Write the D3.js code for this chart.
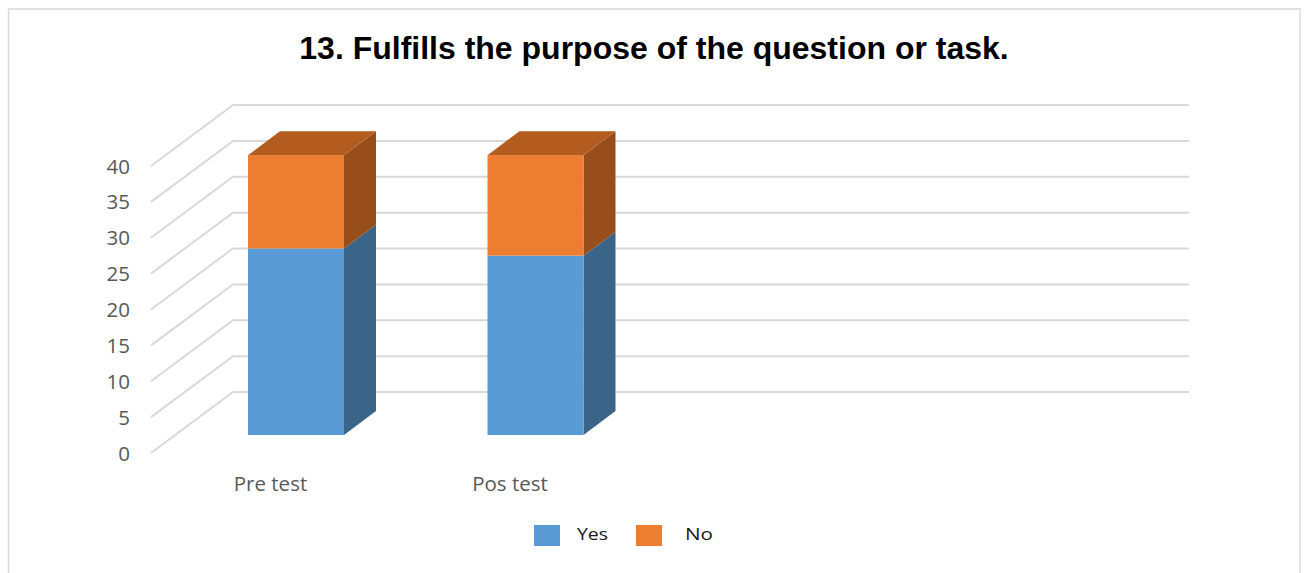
<!DOCTYPE html>
<html><head><meta charset="utf-8">
<script src="https://cdn.jsdelivr.net/npm/d3@7"></script>
<style>html,body{margin:0;padding:0;background:#fff}svg{display:block}</style>
</head><body><svg id="c" width="1308" height="573"></svg>
<script>
const titleText = "13. Fulfills the purpose of the question or task.";
const categories = ["Pre test", "Pos test"];
const seriesNames = ["Yes", "No"];
const yesValues = [26, 25];
const noValues = [13, 14];
const tickValues = [0, 5, 10, 15, 20, 25, 30, 35, 40];
const colors = {Yes: {front: "#5b9bd5", side: "#3a6589", top: "#4f86b8"}, No: {front: "#ed7d31", side: "#974e1a", top: "#b45c20"}};

const svg = d3.select("#c");
const valuesBy = {Yes: yesValues, No: noValues};
const stack = d3.stack().keys(seriesNames).value((d, k) => valuesBy[k][d])(d3.range(categories.length));

const yWallFront = d3.scaleLinear().domain([0, 40]).range([453, 166]);
const yWallBack = d3.scaleLinear().domain([0, 40]).range([392, 105]);
const yBar = d3.scaleLinear().domain([0, 40]).range([435, 148]);
const xCat = d3.scaleOrdinal().domain(categories).range([248, 487.5]);
const barW = 96, dx = 32, dy = -24;
const wallL = 151, wallB = 233, wallR = 1189;

svg.append("path").attr("d", "M8.5,573V9H1300V573").attr("fill", "none").attr("stroke", "#d9d9d9").attr("stroke-width", 1.5);

svg.append("text").attr("x", 654).attr("y", 59).attr("text-anchor", "middle")
  .attr("font-family", "Liberation Sans").attr("font-weight", 700).attr("font-size", 32).attr("fill", "#000").text(titleText);

const grid = svg.append("g").attr("fill", "none").attr("stroke", "#d9d9d9").attr("stroke-width", 2);
grid.selectAll("path").data(tickValues).join("path")
  .attr("d", v => `M${wallL},${yWallFront(v)}L${wallB},${yWallBack(v)}H${wallR}`);

svg.append("g").selectAll("text").data(tickValues).join("text")
  .attr("x", 130).attr("y", v => yWallFront(v) + 7.5).attr("text-anchor", "end")
  .attr("font-family", "Open Sans").attr("font-size", 20.5).attr("fill", "#595959").text(v => v);

stack.forEach(layer => {
  const c = colors[layer.key];
  const isTop = layer.key === seriesNames[seriesNames.length - 1];
  categories.forEach((cat, i) => {
    const x = xCat(cat), y0 = yBar(layer[i][0]), y1 = yBar(layer[i][1]);
    const g = svg.append("g").attr("class", "bar " + layer.key);
    g.append("path").attr("fill", c.side)
      .attr("d", `M${x + barW},${y0}L${x + barW + dx},${y0 + dy}V${y1 + dy}L${x + barW},${y1}Z`);
    g.append("rect").attr("x", x).attr("y", y1).attr("width", barW).attr("height", y0 - y1).attr("fill", c.front);
    if (isTop) g.append("path").attr("fill", c.top)
      .attr("d", `M${x},${y1}L${x + dx},${y1 + dy}H${x + barW + dx}L${x + barW},${y1}Z`);
  });
});

svg.append("g").selectAll("text").data(categories).join("text")
  .attr("x", d => xCat(d) + 22.5).attr("y", 491).attr("text-anchor", "middle")
  .attr("font-family", "Open Sans").attr("font-size", 20.5).attr("fill", "#595959").text(d => d);

const legX = d3.scaleOrdinal().domain(seriesNames).range([534, 636]);
const legT = d3.scaleOrdinal().domain(seriesNames).range([577, 685]);
const legW = d3.scaleOrdinal().domain(seriesNames).range([31, 28]);
const leg = svg.append("g").selectAll("g").data(seriesNames).join("g");
leg.append("rect").attr("x", d => legX(d)).attr("y", 525).attr("width", 26).attr("height", 21).attr("fill", d => colors[d].front);
leg.append("text").attr("x", d => legT(d)).attr("y", 540)
  .attr("textLength", d => legW(d)).attr("lengthAdjust", "spacingAndGlyphs")
  .attr("font-family", "Open Sans").attr("font-size", 16).attr("fill", "#1a1a1a").text(d => d);
</script></body></html>
